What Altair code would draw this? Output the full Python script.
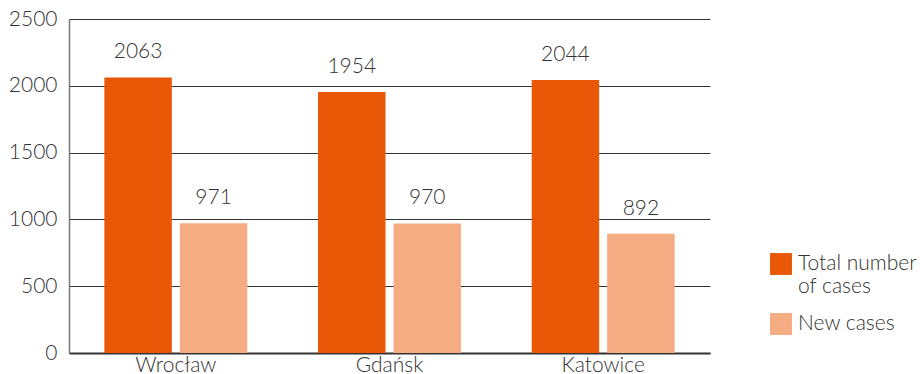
import altair as alt
import pandas as pd

cities = ["Wrocław", "Gdańsk", "Katowice"]
series = ["Total number of cases", "New cases"]
total_cases = [2063, 1954, 2044]
new_cases = [971, 970, 892]
colors = ["#E85806", "#F5AC83"]

rows = []
for i, city in enumerate(cities):
    rows.append({"city": city, "series": series[0], "value": total_cases[i]})
    rows.append({"city": city, "series": series[1], "value": new_cases[i]})
df = pd.DataFrame(rows)

FONT = "Lato"
TXT = "#333333"
FS = 21

x = alt.X("city:N", sort=cities, title=None,
          scale=alt.Scale(paddingInner=0.331, paddingOuter=0.1655),
          axis=alt.Axis(labelAngle=0, labelFontSize=FS, labelFont=FONT,
                        labelFontWeight=300, labelColor=TXT, labelPadding=1,
                        ticks=False, domainColor="#333333", domainWidth=2))
xoff = alt.XOffset("series:N", sort=series,
                   scale=alt.Scale(paddingInner=0.106, paddingOuter=0))

base = alt.Chart(df).encode(x=x, xOffset=xoff)

# the long legend entry wraps onto two lines, first line level with its swatch
legend_label = ("datum.label == 'Total number of cases' "
                "? ['Total number', 'of cases'] : datum.label")

bars = base.mark_bar().encode(
    y=alt.Y("value:Q", title=None,
            scale=alt.Scale(domain=[0, 2500], nice=False),
            axis=alt.Axis(values=[0, 500, 1000, 1500, 2000, 2500], format="d",
                          labelFontSize=FS, labelFont=FONT, labelFontWeight=300,
                          labelColor=TXT, labelPadding=12, ticks=False,
                          grid=True, gridColor="#333333", gridWidth=1,
                          domainColor="#777777", domainWidth=1.5)),
    color=alt.Color("series:N", sort=series,
                    scale=alt.Scale(domain=series, range=colors),
                    legend=alt.Legend(
                        title=None, orient="none", legendX=701, legendY=234,
                        symbolType="square", symbolSize=480,
                        symbolStrokeWidth=0, symbolOpacity=1,
                        labelFontSize=FS, labelFont=FONT, labelFontWeight=300,
                        labelColor=TXT, labelOffset=6, rowPadding=16,
                        labelBaseline="middle",
                        labelExpr=legend_label)),
)

labels = base.mark_text(baseline="bottom", dy=-15, fontSize=FS, font=FONT,
                        fontWeight=300, color=TXT).encode(
    y=alt.Y("value:Q"),
    text=alt.Text("value:Q"),
)

chart = (bars + labels).properties(
    width=641, height=334,
    autosize=alt.AutoSizeParams(type="none"),
    padding={"left": 69, "top": 19, "right": 210, "bottom": 21},
).configure_view(stroke=None)

chart.save("out.html", embed_options={"renderer": "svg", "actions": False})
